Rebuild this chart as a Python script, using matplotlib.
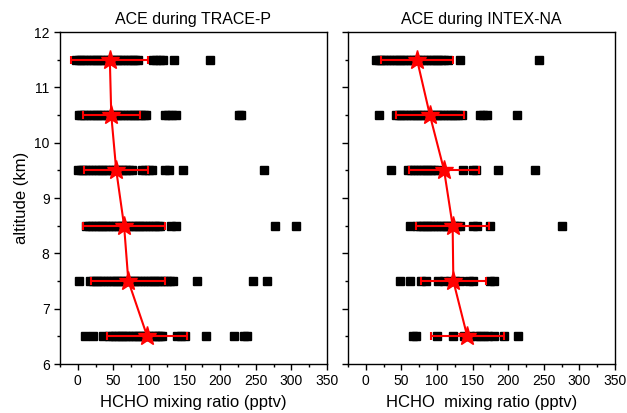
import matplotlib.pyplot as plt
from matplotlib.ticker import MultipleLocator, NullFormatter

plt.rcParams["font.family"] = ["Liberation Sans", "DejaVu Sans"]

# altitude bins (km)
altitudes = [11.5, 10.5, 9.5, 8.5, 7.5, 6.5]

# individual HCHO samples per altitude bin, TRACE-P
trace_11_5 = [-3, 1, 5, 9, 13, 17, 21, 25, 29, 33, 37, 41, 45, 49, 53, 57, 61, 65, 69, 73, 77, 81, 84,
              105, 110, 115, 120, 135, 185]
trace_10_5 = [1, 5, 9, 13, 17, 21, 25, 29, 33, 37, 41, 45, 49, 53, 57, 61, 65, 69, 73, 77, 81, 85, 89, 93, 96,
              122, 127, 132, 138, 226, 229]
trace_9_5 = [0, 4, 8, 12, 16, 20, 24, 28, 32, 36, 40, 44, 48, 52, 56, 60, 64, 68, 72, 76,
             90, 95, 100, 104, 122, 128, 148, 262]
trace_8_5 = [12, 16, 20, 24, 28, 32, 36, 40, 44, 48, 52, 56, 60, 64, 68, 72, 76, 80, 84, 88, 92, 96, 100,
             104, 108, 112, 116, 131, 138, 277, 306]
trace_7_5 = [2, 17, 21, 25, 29, 33, 37, 41, 45, 49, 53, 57, 61, 65, 69, 73, 77, 81, 85, 89, 93, 97, 101,
             105, 109, 113, 117, 121, 125, 129, 134, 168, 246, 266]
trace_6_5 = [10, 21, 35, 44, 48, 52, 56, 60, 64, 68, 72, 76, 80, 84, 88, 92, 96, 100, 104, 108, 112, 116, 118,
             140, 145, 150, 180, 220, 234, 238]

# individual HCHO samples per altitude bin, INTEX-NA
intex_11_5 = [14, 18, 22, 26, 30, 34, 38, 42, 46, 50, 54, 58, 62, 66, 70, 74, 78, 82, 86, 90, 94, 98, 102,
              106, 110, 115, 132, 244]
intex_10_5 = [19, 42, 46, 50, 54, 58, 62, 66, 70, 74, 78, 82, 86, 90, 94, 98, 102, 106, 110, 114, 118, 122,
              126, 130, 135, 160, 165, 170, 213]
intex_9_5 = [35, 60, 64, 68, 72, 76, 80, 84, 88, 92, 96, 100, 136, 150, 155, 186, 238]
intex_8_5 = [62, 72, 76, 80, 84, 88, 92, 96, 100, 104, 108, 112, 116, 120, 124, 128, 132, 150, 156, 174, 276]
intex_7_5 = [48, 62, 78, 84, 102, 110, 118, 125, 132, 145, 150, 174, 180]
intex_6_5 = [66, 70, 100, 123, 138, 146, 155, 160, 166, 172, 180, 194, 214]

# bin means and standard deviations
trace_mean = [45, 47, 54, 65, 71, 97.5]
trace_std = [54, 40, 45, 57, 52, 56]
intex_mean = [72, 90, 110, 122, 123, 142.5]
intex_std = [50, 47.5, 49, 51.5, 46, 51.5]

trace_samples = [trace_11_5, trace_10_5, trace_9_5, trace_8_5, trace_7_5, trace_6_5]
intex_samples = [intex_11_5, intex_10_5, intex_9_5, intex_8_5, intex_7_5, intex_6_5]

fig = plt.figure(figsize=(6.27, 4.13), dpi=100)
ax1 = fig.add_axes([0.0957, 0.1186, 0.4258, 0.8039])
ax2 = fig.add_axes([0.555, 0.1186, 0.4258, 0.8039])


def draw_panel(ax, samples, mean, std, title, xlabel, ylabels):
    for alt, vals in zip(altitudes, samples):
        ax.plot(vals, [alt] * len(vals), "s", color="black", ms=5.8, mec="black", zorder=2)
    ax.errorbar(mean, altitudes, xerr=std, color="red", lw=1.5, elinewidth=1.5,
                capsize=3, capthick=1.5, marker="*", ms=14, mfc="red", mec="red", zorder=3)
    ax.set_xlim(-25, 350)
    ax.set_ylim(6, 12)
    ax.xaxis.set_major_locator(MultipleLocator(50))
    ax.xaxis.set_minor_locator(MultipleLocator(25))
    ax.yaxis.set_major_locator(MultipleLocator(1))
    ax.yaxis.set_minor_locator(MultipleLocator(0.5))
    ax.tick_params(which="major", direction="out", length=4, width=1, labelsize=10)
    ax.tick_params(which="minor", direction="out", length=2.5, width=1)
    if not ylabels:
        ax.yaxis.set_major_formatter(NullFormatter())
    ax.set_title(title, fontsize=11.5, pad=6)
    ax.set_xlabel(xlabel, fontsize=12, labelpad=5)
    for s in ax.spines.values():
        s.set_linewidth(1)


draw_panel(ax1, trace_samples, trace_mean, trace_std, "ACE during TRACE-P",
           "HCHO mixing ratio (pptv)", True)
draw_panel(ax2, intex_samples, intex_mean, intex_std, "ACE during INTEX-NA",
           "HCHO  mixing ratio (pptv)", False)
ax1.set_ylabel("altitude (km)", fontsize=12, labelpad=4)

fig.savefig("out.png", dpi=100)
